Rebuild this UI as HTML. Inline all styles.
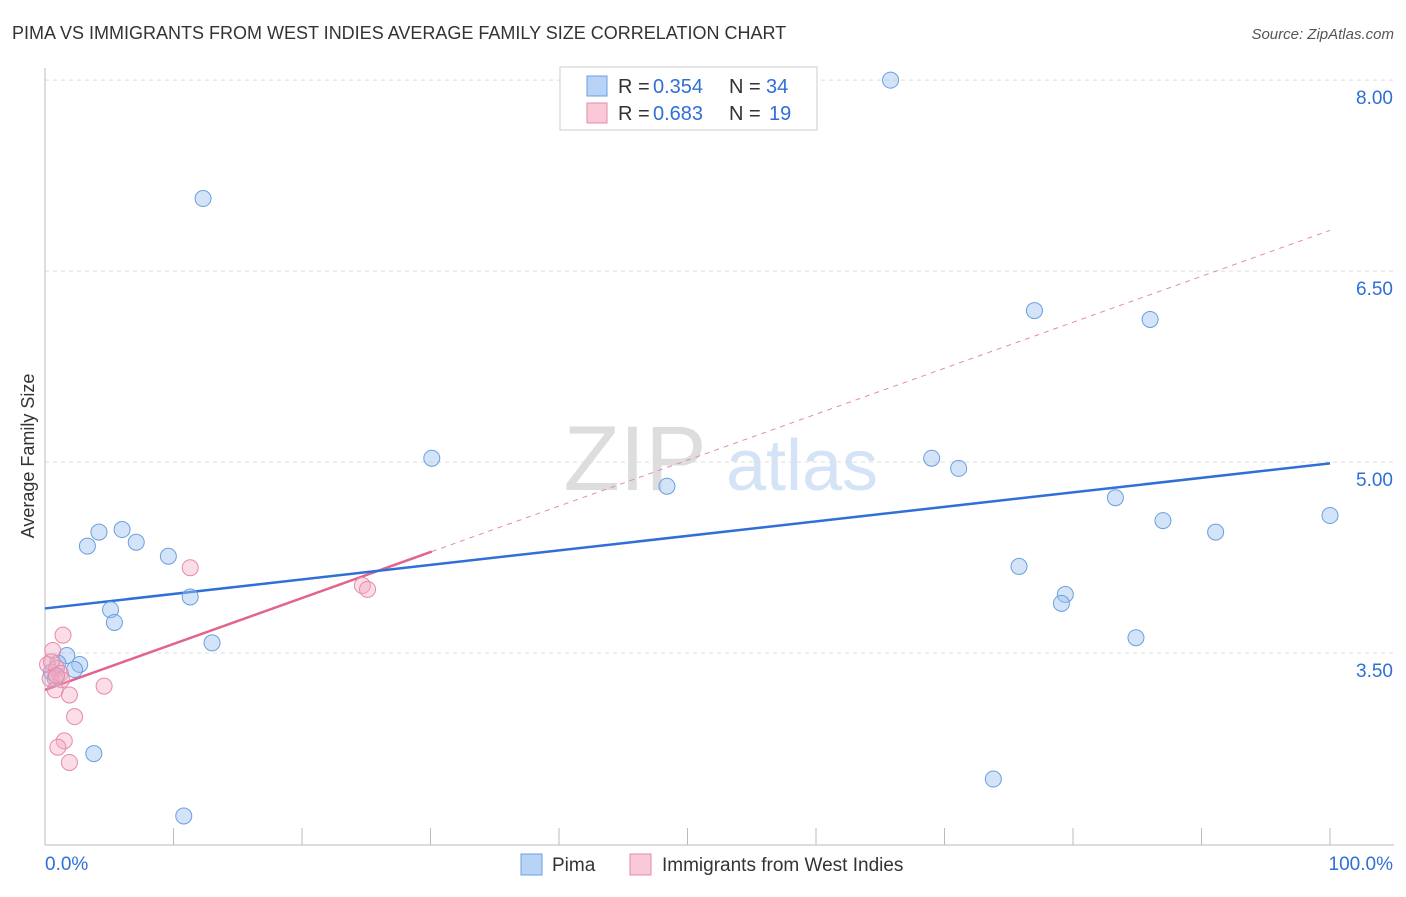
<!DOCTYPE html>
<html><head><meta charset="utf-8"><style>
body{margin:0;background:#fff;font-family:"Liberation Sans",sans-serif;}
svg text{font-family:"Liberation Sans",sans-serif;}
</style></head><body>
<svg id="chart" width="1406" height="892" xmlns="http://www.w3.org/2000/svg">
<text x="12" y="39" font-size="18" fill="#333">PIMA VS IMMIGRANTS FROM WEST INDIES AVERAGE FAMILY SIZE CORRELATION CHART</text>
<text x="1394" y="39" font-size="15" fill="#555" font-style="italic" text-anchor="end">Source: ZipAtlas.com</text>
<text x="34" y="456" font-size="18" fill="#333" text-anchor="middle" transform="rotate(-90 34 456)">Average Family Size</text>
<g>
<text x="635" y="490" font-size="92" fill="#ddd" font-family="Liberation Serif" text-anchor="middle">ZIP</text>
<text x="802" y="490" font-size="72" fill="#d4e3f5" text-anchor="middle">atlas</text>
</g>
<g id="grid"></g>
<g id="axes"></g>
<g id="lines"></g>
<g id="points"></g>
<g>
<rect x="560" y="67" width="257" height="63" fill="#fff" stroke="#ccc"/>
<rect x="587" y="76" width="20" height="20" fill="#b9d3f7" stroke="#6a9fe0"/>
<rect x="587" y="103" width="20" height="20" fill="#f9c9d8" stroke="#e68aa8"/>
<text x="618" y="93" font-size="20" fill="#333">R =</text>
<text x="653" y="93" font-size="20" fill="#2f6fd6">0.354</text>
<text x="729" y="93" font-size="20" fill="#333">N =</text>
<text x="766" y="93" font-size="20" fill="#2f6fd6">34</text>
<text x="618" y="120" font-size="20" fill="#333">R =</text>
<text x="653" y="120" font-size="20" fill="#2f6fd6">0.683</text>
<text x="729" y="120" font-size="20" fill="#333">N =</text>
<text x="769" y="120" font-size="20" fill="#2f6fd6">19</text>
</g>
<g>
<rect x="521" y="854" width="21" height="21" fill="#b9d3f7" stroke="#6a9fe0"/>
<text x="552" y="871" font-size="19" fill="#333">Pima</text>
<rect x="630" y="854" width="21" height="21" fill="#f9c9d8" stroke="#e68aa8"/>
<text x="662" y="871" font-size="19" fill="#333">Immigrants from West Indies</text>
</g>
</svg>
<script>
const yTicks=[3.5,5.0,6.5,8.0];
const yTickLabels=["3.50","5.00","6.50","8.00"];
const pimaX=[65.8,12.3,77.0,86.0,30.1,69.0,71.1,48.4,83.3,87.0,100,91.1,4.2,6.0,7.1,3.3,9.6,75.8,11.3,79.4,79.1,5.1,5.4,84.9,13.0,1.7,1.0,2.7,2.3,0.5,0.8,3.8,73.8,10.8];
const pimaY=[8.0,7.07,6.19,6.12,5.03,5.03,4.95,4.81,4.72,4.54,4.58,4.45,4.45,4.47,4.37,4.34,4.26,4.18,3.94,3.96,3.89,3.84,3.74,3.62,3.58,3.48,3.42,3.41,3.37,3.35,3.30,2.71,2.51,2.22];
const wiX=[1.4,11.3,24.7,25.1,0.6,0.2,0.9,1.2,0.4,1.3,4.6,0.8,1.9,2.3,1.5,1.0,1.9,0.5,0.9];
const wiY=[3.64,4.17,4.03,4.00,3.52,3.41,3.38,3.34,3.30,3.29,3.24,3.21,3.17,3.0,2.81,2.76,2.64,3.43,3.32];
const pimaTrend=[3.85,4.99];
const wiTrend=[3.21,6.82];
const wiSolidEnd=30.1;
const NS="http://www.w3.org/2000/svg";
const X=v=>45+v*12.85, Y=v=>653-(v-3.5)*127.3;
function mk(tag,attrs,parent){const e=document.createElementNS(NS,tag);for(const k in attrs)e.setAttribute(k,attrs[k]);document.getElementById(parent).appendChild(e);return e;}
yTicks.forEach((t,i)=>{
 const g=mk('line',{x1:45,x2:1394,y1:Y(t),y2:Y(t),stroke:'#ddd','stroke-dasharray':'4,4'},'grid');
 
 
 const l=mk('text',{x:1393,y:Y(t)+24,'font-size':19,fill:'#2f6fd6','text-anchor':'end'},'grid');
 l.textContent=yTickLabels[i];
 
 
});
const ax=mk('line',{x1:45,x2:1394,y1:845,y2:845,stroke:'#bbb'},'axes');


const ay=mk('line',{x1:45,x2:45,y1:68,y2:845,stroke:'#bbb'},'axes');


for(let i=0;i<=10;i++){const t=mk('line',{x1:X(i*10),x2:X(i*10),y1:828,y2:845,stroke:'#bbb'},'axes');
 
 }
const l0=mk('text',{x:45,y:870,'font-size':19,fill:'#2f6fd6'},'axes');l0.textContent='0.0%';


const l1=mk('text',{x:1393,y:870,'font-size':19,fill:'#2f6fd6','text-anchor':'end'},'axes');l1.textContent='100.0%';


const wAt=x=>wiTrend[0]+(wiTrend[1]-wiTrend[0])*x/100;
const d=mk('line',{x1:X(wiSolidEnd),y1:Y(wAt(wiSolidEnd)),x2:X(100),y2:Y(wiTrend[1]),stroke:'#e68aa8','stroke-width':1,'stroke-dasharray':'5,5'},'lines');


const s=mk('line',{x1:X(0),y1:Y(wiTrend[0]),x2:X(wiSolidEnd),y2:Y(wAt(wiSolidEnd)),stroke:'#e0648e','stroke-width':2.5},'lines');


const b=mk('line',{x1:X(0),y1:Y(pimaTrend[0]),x2:X(100),y2:Y(pimaTrend[1]),stroke:'#2f6fd6','stroke-width':2.5},'lines');


pimaX.forEach((x,i)=>{const c=mk('circle',{cx:X(x),cy:Y(pimaY[i]),r:8,fill:'rgba(160,195,240,0.45)',stroke:'#6a9fe0','stroke-width':1},'points');
 
 });
wiX.forEach((x,i)=>{const c=mk('circle',{cx:X(x),cy:Y(wiY[i]),r:8,fill:'rgba(245,170,195,0.4)',stroke:'#e68aa8','stroke-width':1},'points');
 
 });
</script>
</body></html>
